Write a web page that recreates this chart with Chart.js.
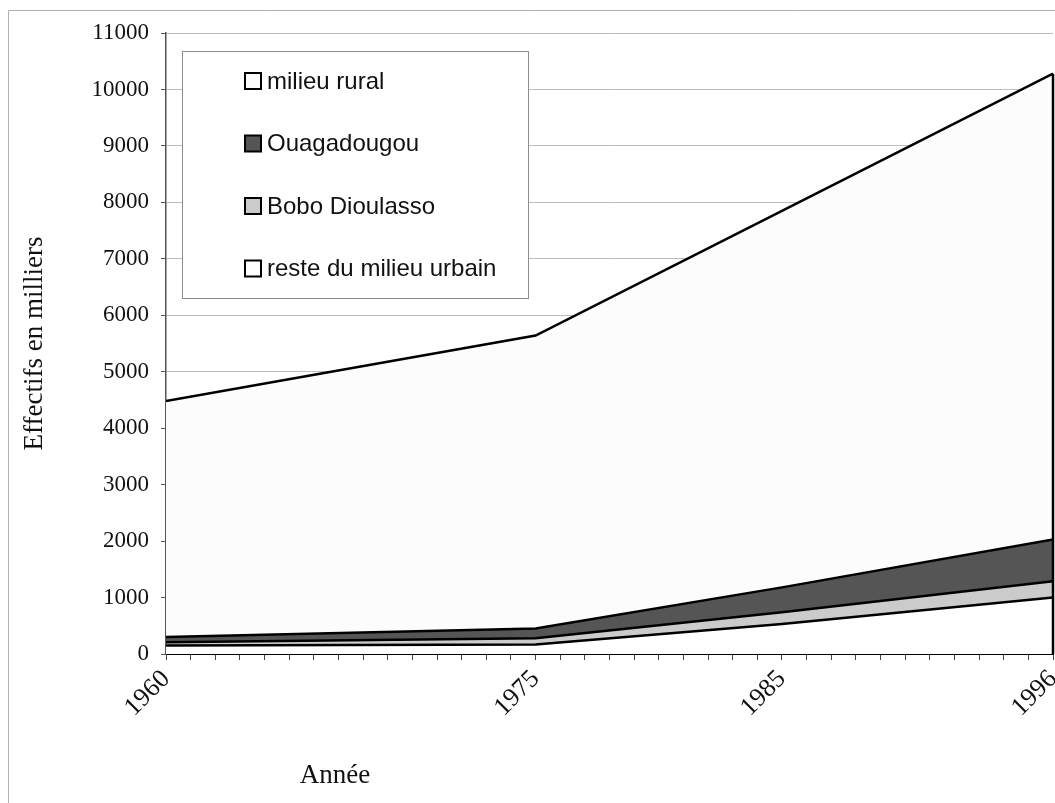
<!DOCTYPE html>
<html>
<head>
<meta charset="utf-8">
<script src="https://cdn.jsdelivr.net/npm/chart.js@4/dist/chart.umd.min.js"></script>
<style>
  html, body { margin: 0; padding: 0; background: #fff; }
  #wrap { width: 1055px; height: 803px; position: relative; }
</style>
</head>
<body>
<div id="wrap"><canvas id="popCanvas" width="1055" height="803"></canvas></div>
<script>
// census years and values (thousands)
var years = [1960, 1975, 1985, 1996];
var labelYears = [1960, 1975, 1985, 1996];
var resteUrbain = [150, 170, 530, 1000];
var boboDioulasso = [60, 110, 210, 290];
var ouagadougou = [90, 170, 440, 740];
var milieuRural = [4180, 5190, 6670, 8250];
var yTicks = [0, 1000, 2000, 3000, 4000, 5000, 6000, 7000, 8000, 9000, 10000, 11000];

function toPoints(arr) {
    return arr.map(function (v, i) { return { x: years[i], y: v }; });
}

var serif = '"Liberation Serif", "Times New Roman", serif';
var sans = '"Liberation Sans", Arial, sans-serif';

// legend box drawn inside the plot, rural on top
var boxLegend = {
    id: 'boxLegend',
    afterDraw: function (chart) {
        var ctx = chart.ctx;
        ctx.save();
        ctx.fillStyle = '#fff';
        ctx.fillRect(182, 51, 346, 247);
        ctx.strokeStyle = '#8c8c8c';
        ctx.lineWidth = 1;
        ctx.strokeRect(182.5, 51.5, 346, 247);
        var ds = chart.data.datasets.slice().reverse();
        ds.forEach(function (d, i) {
            var cy = 81 + i * 62.5;
            ctx.fillStyle = d.backgroundColor;
            ctx.fillRect(245, cy - 8, 16, 16);
            ctx.strokeStyle = '#000';
            ctx.lineWidth = 2;
            ctx.strokeRect(245, cy - 8, 16, 16);
            ctx.fillStyle = '#111';
            ctx.font = '24px ' + sans;
            ctx.textBaseline = 'middle';
            ctx.textAlign = 'left';
            ctx.fillText(d.label, 267, cy + 1);
        });
        ctx.restore();
    }
};

// outer frame, right edge of the area, x title
var extras = {
    id: 'extras',
    beforeDraw: function (chart) {
        var ctx = chart.ctx;
        ctx.save();
        ctx.strokeStyle = '#b0b0b0';
        ctx.lineWidth = 1;
        ctx.beginPath();
        ctx.moveTo(8.5, 803);
        ctx.lineTo(8.5, 10.5);
        ctx.lineTo(1055, 10.5);
        ctx.stroke();
        ctx.restore();
    },
    afterDatasetsDraw: function (chart) {
        var ctx = chart.ctx;
        var xs = chart.scales.x, ys = chart.scales.y;
        var last = years.length - 1;
        var top = resteUrbain[last] + boboDioulasso[last] + ouagadougou[last] + milieuRural[last];
        var px = xs.getPixelForValue(years[last]);
        ctx.save();
        ctx.strokeStyle = '#000';
        ctx.lineWidth = 2.5;
        ctx.beginPath();
        ctx.moveTo(px, ys.getPixelForValue(top));
        ctx.lineTo(px, ys.getPixelForValue(0));
        ctx.stroke();
        ctx.fillStyle = '#111';
        ctx.font = '27px ' + serif;
        ctx.textAlign = 'center';
        ctx.textBaseline = 'middle';
        ctx.fillText('Année', 335, 776);
        ctx.restore();
    }
};

var ctx = document.getElementById('popCanvas').getContext('2d');
var popChart = new Chart(ctx, {
    type: 'line',
    data: {
        datasets: [
            {
                label: 'reste du milieu urbain',
                data: toPoints(resteUrbain),
                fill: 'origin',
                backgroundColor: '#ffffff',
                borderColor: '#000',
                borderWidth: 2.5
            },
            {
                label: 'Bobo Dioulasso',
                data: toPoints(boboDioulasso),
                fill: '-1',
                backgroundColor: '#cbcbcb',
                borderColor: '#000',
                borderWidth: 2.5
            },
            {
                label: 'Ouagadougou',
                data: toPoints(ouagadougou),
                fill: '-1',
                backgroundColor: '#555555',
                borderColor: '#000',
                borderWidth: 2.5
            },
            {
                label: 'milieu rural',
                data: toPoints(milieuRural),
                fill: '-1',
                backgroundColor: '#fcfcfc',
                borderColor: '#000',
                borderWidth: 2.5
            }
        ]
    },
    options: {
        responsive: false,
        animation: false,
        layout: { padding: { left: 10, top: 33, right: 2, bottom: 0 } },
        elements: {
            point: { radius: 0 },
            line: { tension: 0 }
        },
        plugins: {
            legend: { display: false },
            tooltip: { enabled: false }
        },
        scales: {
            x: {
                type: 'linear',
                min: years[0],
                max: years[years.length - 1],
                afterBuildTicks: function (scale) {
                    var t = [];
                    for (var y = years[0]; y <= years[years.length - 1]; y++) t.push({ value: y });
                    scale.ticks = t;
                },
                afterFit: function (scale) {
                    scale.height = 149;
                    scale.paddingLeft = 0;
                    scale.paddingRight = 0;
                },
                grid: {
                    drawOnChartArea: false,
                    color: '#444',
                    tickColor: '#444',
                    tickLength: 6
                },
                border: { color: '#000', width: 2 },
                ticks: {
                    autoSkip: false,
                    maxRotation: 45,
                    minRotation: 45,
                    padding: 4,
                    color: '#111',
                    font: { family: serif, size: 26 },
                    callback: function (v) {
                        return labelYears.indexOf(v) >= 0 ? String(v) : '';
                    }
                }
            },
            y: {
                stacked: true,
                min: 0,
                max: 11000,
                afterBuildTicks: function (scale) {
                    scale.ticks = yTicks.map(function (v) { return { value: v }; });
                },
                afterFit: function (scale) {
                    scale.width = 156;
                    scale.paddingTop = 0;
                    scale.paddingBottom = 0;
                },
                grid: {
                    color: '#bdbdbd',
                    tickColor: '#555',
                    tickLength: 5
                },
                border: { color: '#555', width: 1.5 },
                title: {
                    display: true,
                    text: 'Effectifs en milliers',
                    color: '#111',
                    font: { family: serif, size: 27 },
                    padding: { top: 9, bottom: 0 }
                },
                ticks: {
                    padding: 12,
                    color: '#111',
                    font: { family: serif, size: 23 },
                    callback: function (v) { return String(v); }
                }
            }
        }
    },
    plugins: [extras, boxLegend]
});
</script>
</body>
</html>
